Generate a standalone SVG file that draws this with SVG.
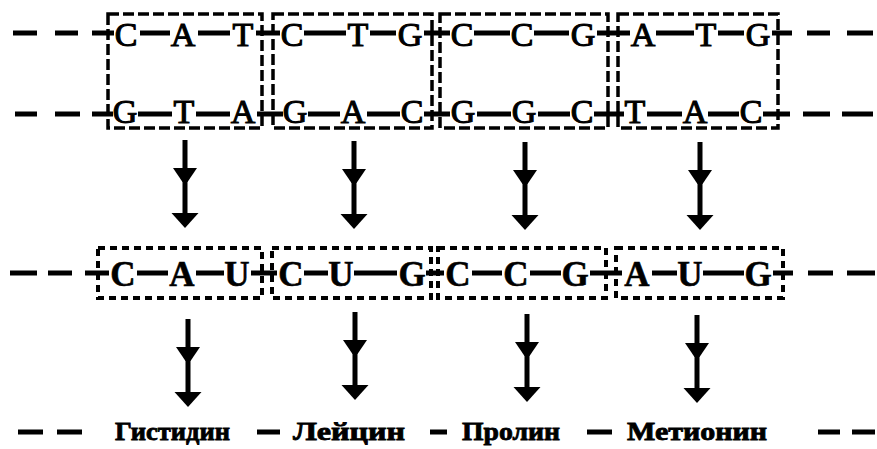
<svg xmlns="http://www.w3.org/2000/svg" width="877" height="449" viewBox="0 0 877 449">
  <style>
    .dna { font-family: "Liberation Serif", "Times New Roman", serif; font-size: 34px; fill: #000; stroke: #000; stroke-width: 1.1; text-anchor: middle; }
    .rna { font-family: "Liberation Serif", "Times New Roman", serif; font-size: 35px; font-weight: bold; fill: #000; stroke: #000; stroke-width: 0.6; text-anchor: middle; }
    .aa { font-family: "Liberation Serif", "Times New Roman", serif; font-size: 25px; font-weight: bold; fill: #000; stroke: #000; stroke-width: 0.8; }
    .bond { stroke: #000; stroke-width: 5; fill: none; }
    .boxD { fill: none; stroke: #000; stroke-width: 3.5; stroke-dasharray: 11 4; }
    .boxR { fill: none; stroke: #000; stroke-width: 4; stroke-dasharray: 7 5; }
  </style>
  <defs>
    <!-- down arrow with a mid-shaft barb; origin at top of shaft -->
    <g id="arrow">
      <rect x="-2.5" y="0" width="5" height="76" fill="#000"/>
      <polygon points="-12,28 12,28 2.5,42 -2.5,42" fill="#000"/>
      <polygon points="-13.5,73 13.5,73 0,88" fill="#000"/>
    </g>
  </defs>
  <rect width="877" height="449" fill="#fff"/>

  <!-- DNA double strand codons -->
  <g id="dna-codon-1">
    <rect class="boxD" x="108" y="14" width="154" height="114"/>
    <text class="dna" x="126" y="46">C</text><text class="dna" x="183" y="46">A</text><text class="dna" x="243" y="46">T</text>
    <text class="dna" x="125" y="123">G</text><text class="dna" x="184" y="123">T</text><text class="dna" x="243" y="123">A</text>
  </g>
  <g id="dna-codon-2">
    <rect class="boxD" x="273" y="14" width="159" height="114"/>
    <text class="dna" x="292" y="46">C</text><text class="dna" x="358" y="46">T</text><text class="dna" x="410" y="46">G</text>
    <text class="dna" x="295" y="123">G</text><text class="dna" x="353" y="123">A</text><text class="dna" x="412" y="123">C</text>
  </g>
  <g id="dna-codon-3">
    <rect class="boxD" x="440" y="14" width="168" height="114"/>
    <text class="dna" x="462" y="46">C</text><text class="dna" x="522" y="46">C</text><text class="dna" x="583" y="46">G</text>
    <text class="dna" x="463" y="123">G</text><text class="dna" x="524" y="123">G</text><text class="dna" x="582" y="123">C</text>
  </g>
  <g id="dna-codon-4">
    <rect class="boxD" x="618" y="14" width="160" height="114"/>
    <text class="dna" x="643" y="46">A</text><text class="dna" x="706" y="46">T</text><text class="dna" x="758" y="46">G</text>
    <text class="dna" x="635" y="123">T</text><text class="dna" x="695" y="123">A</text><text class="dna" x="751" y="123">C</text>
  </g>

  <!-- mRNA codons -->
  <g id="rna-codon-1">
    <rect class="boxR" x="98" y="248" width="164" height="50"/>
    <text class="rna" x="123" y="286">C</text><text class="rna" x="182" y="286">A</text><text class="rna" x="237" y="286">U</text>
  </g>
  <g id="rna-codon-2">
    <rect class="boxR" x="272" y="248" width="159" height="50"/>
    <text class="rna" x="291" y="286">C</text><text class="rna" x="341" y="286">U</text><text class="rna" x="412" y="286">G</text>
  </g>
  <g id="rna-codon-3">
    <rect class="boxR" x="438" y="248" width="168" height="50"/>
    <text class="rna" x="458" y="286">C</text><text class="rna" x="516" y="286">C</text><text class="rna" x="575" y="286">G</text>
  </g>
  <g id="rna-codon-4">
    <rect class="boxR" x="616" y="248" width="167" height="50"/>
    <text class="rna" x="637" y="286">A</text><text class="rna" x="690" y="286">U</text><text class="rna" x="758" y="286">G</text>
  </g>

  <!-- amino acids -->
  <g id="amino-acids">
    <text class="aa" x="115" y="440" textLength="115" lengthAdjust="spacingAndGlyphs">Гистидин</text>
    <text class="aa" x="293" y="440" textLength="112" lengthAdjust="spacingAndGlyphs">Лейцин</text>
    <text class="aa" x="462" y="440" textLength="98" lengthAdjust="spacingAndGlyphs">Пролин</text>
    <text class="aa" x="627" y="440" textLength="140" lengthAdjust="spacingAndGlyphs">Метионин</text>
  </g>

  <!-- connectors: strand bonds and arrows -->
  <g id="connectors">
    <path class="bond" d="M13 33H37M55 33H78M92 33H114M140 33H170M198 33H230M256 33H280M304 33H346M370 33H396M424 33H450M474 33H510M534 33H569M597 33H630M656 33H694M718 33H744M772 33H792M807 33H830M847 33H873"/>
    <path class="bond" d="M15 114H37M55 114H80M92 114H113M138 114H172M196 114H230M257 114H283M308 114H340M367 114H400M424 114H450M477 114H511M538 114H570M594 114H624M647 114H682M708 114H739M763 114H790M803 114H830M842 114H873"/>
    <path class="bond" d="M10 273H37M48 273H72M85 273H109M137 273H168M196 273H224M251 273H277M304 273H328M354 273H397M426 273H444M472 273H502M530 273H561M590 273H622M652 273H677M703 273H744M773 273H793M808 273H833M847 273H875"/>
    <path class="bond" d="M18 432H43M57 432H82M257 432H280M430 432H447M587 432H612M818 432H840M852 432H875"/>
    <use href="#arrow" x="185" y="140"/>
    <use href="#arrow" x="354" y="141"/>
    <use href="#arrow" x="525" y="142"/>
    <use href="#arrow" x="700" y="142"/>
    <use href="#arrow" x="188" y="319"/>
    <use href="#arrow" x="355" y="312"/>
    <use href="#arrow" x="527" y="314"/>
    <use href="#arrow" x="697" y="315"/>
  </g>
</svg>
